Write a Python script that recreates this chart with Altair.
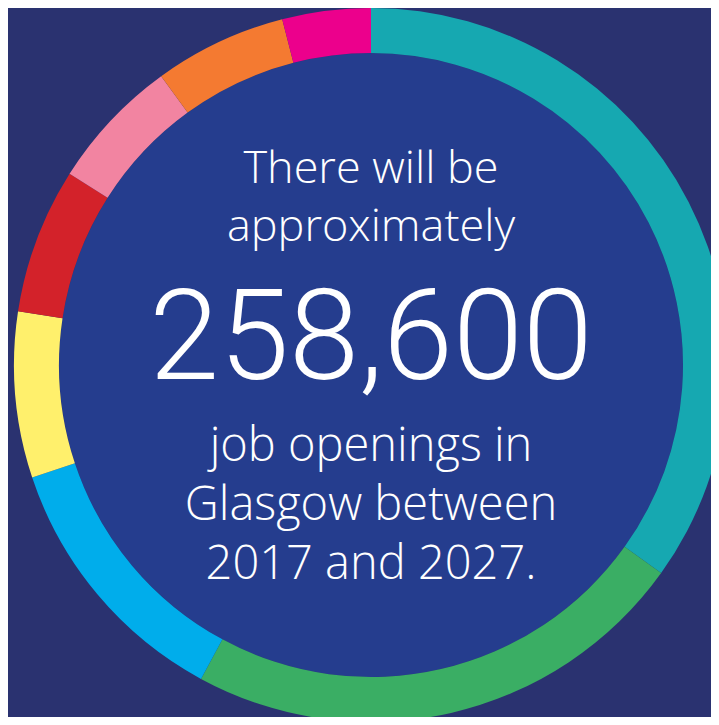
import altair as alt
import pandas as pd

# Segment shares of the ring (clockwise from 12 o'clock)
categories = ["Segment 1", "Segment 2", "Segment 3", "Segment 4",
              "Segment 5", "Segment 6", "Segment 7", "Segment 8"]
shares = [34.9, 23.0, 12.0, 7.5, 6.6, 6.0, 6.0, 4.0]
colors = ["#16a8b1", "#3aae64", "#00adeb", "#fff06c",
          "#d3222a", "#f284a1", "#f47a31", "#ec008c"]

top_lines = ["There will be", "approximately"]
headline = "258,600"
bottom_lines = ["job openings in", "Glasgow between", "2017 and 2027."]

BG = "#2a3270"
INNER = "#253d8e"
CX, CY = 363, 357
R_OUT, R_IN = 357, 312

ring_df = pd.DataFrame({"category": categories, "share": shares,
                        "idx": list(range(len(categories)))})

inner = alt.Chart(pd.DataFrame({"k": [0]})).mark_arc(
    radius=R_IN, radius2=0, theta=0, theta2=6.2832, color=INNER, stroke=None
).encode(x=alt.value(CX), y=alt.value(CY))

ring = alt.Chart(ring_df).mark_arc(radius=R_OUT, radius2=R_IN, stroke=None).encode(
    theta=alt.Theta("share:Q", stack=True),
    color=alt.Color("category:N", scale=alt.Scale(domain=categories, range=colors), legend=None),
    order=alt.Order("idx:Q"),
    x=alt.value(CX), y=alt.value(CY),
)


def line(text, size, baseline_y, font="Open Sans", weight=300):
    return alt.Chart(pd.DataFrame({"t": [text]})).mark_text(
        font=font, fontSize=size, fontWeight=weight, color="white",
        align="center", baseline="alphabetic"
    ).encode(text="t:N", x=alt.value(CX), y=alt.value(baseline_y - 8))


layers = [inner, ring]
layers.append(line(top_lines[0], 45, 183))
layers.append(line(top_lines[1], 45, 241))
layers.append(line(headline, 126, 379, font="Roboto", weight=300))
layers.append(line(bottom_lines[0], 47, 461))
layers.append(line(bottom_lines[1], 47, 520))
layers.append(line(bottom_lines[2], 47, 579))

chart = alt.layer(*layers).properties(
    width=703, height=709, autosize=alt.AutoSizeParams(type="none"), padding=0,
    background=BG
).configure_view(stroke=None)

chart.save("out.html", embed_options={"renderer": "svg", "actions": False})
